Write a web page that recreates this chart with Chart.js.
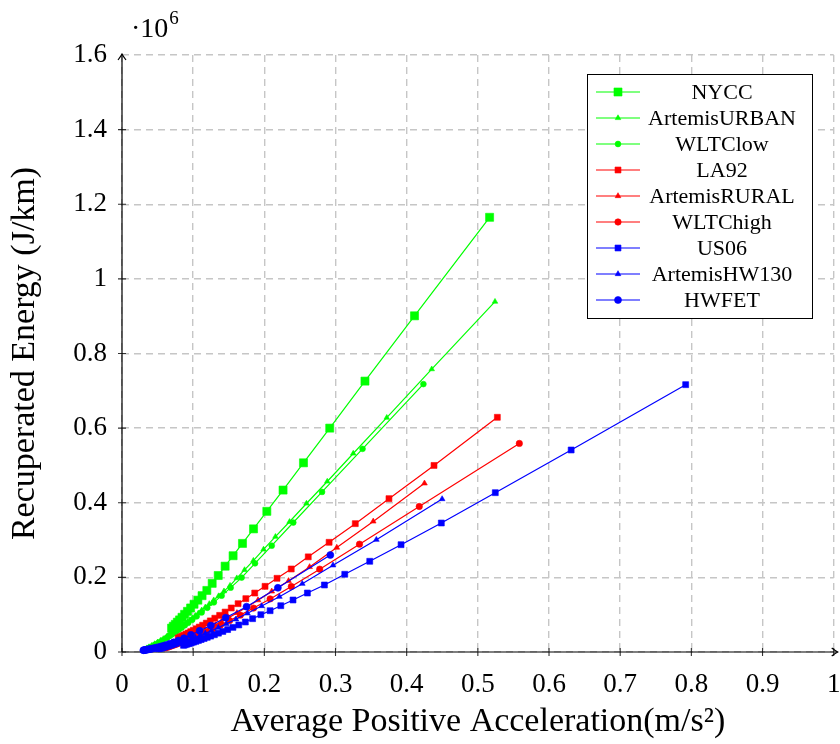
<!DOCTYPE html>
<html><head><meta charset="utf-8">
<script src="https://cdn.jsdelivr.net/npm/chart.js@4.4.0/dist/chart.umd.min.js"></script>
<style>html,body{margin:0;padding:0;background:#fff;}#wrap{width:840px;height:744px;}</style>
</head><body><div id="wrap"><canvas id="c" width="840" height="744"></canvas></div>
<script>
// ---------- DATA (energy values in units of 10^6 J/km) ----------
const seriesNames = ['NYCC','ArtemisURBAN','WLTClow','LA92','ArtemisRURAL','WLTChigh','US06','ArtemisHW130','HWFET'];

const nyccX = [0.5165,0.411,0.3414,0.2919,0.255,0.2263,0.2035,0.1848,0.1693,0.1561,0.1449,0.1352,0.1267,0.1192,0.1125,0.1066,0.1012,0.0964,0.0920,0.0880,0.0843,0.0809,0.0778,0.0749,0.0722,0.0697];
const nyccY = [1.165,0.901,0.726,0.600,0.507,0.434,0.377,0.330,0.291,0.258,0.230,0.205,0.184,0.165,0.151,0.139,0.128,0.118,0.109,0.101,0.093,0.086,0.080,0.074,0.069,0.064];

const artUrbanX = [0.5241,0.4352,0.3720,0.3249,0.2884,0.2592,0.2354,0.2156,0.1989,0.1846,0.1722,0.1613,0.1518,0.1433,0.1357,0.1289,0.1227,0.1171,0.1120,0.1073,0.1030,0.0990,0.0953,0.0919,0.0887,0.0858,0.0830,0.0804,0.0780,0.0757,0.0735,0.0714,0.0695,0.0677,0.0659,0.0643,0.0627,0.058,0.054,0.050,0.046,0.042,0.038,0.035];
const artUrbanY = [0.939,0.758,0.628,0.532,0.457,0.398,0.349,0.309,0.275,0.245,0.220,0.198,0.178,0.163,0.150,0.139,0.129,0.120,0.112,0.104,0.0975,0.0915,0.086,0.081,0.0764,0.0722,0.0682,0.0645,0.0612,0.0581,0.0551,0.0523,0.0498,0.0474,0.0451,0.0431,0.0411,0.0353,0.0306,0.0260,0.0216,0.0174,0.0134,0.0105];

const wltcLowX = [0.4235,0.3380,0.2811,0.2407,0.2104,0.1869,0.1681,0.1527,0.1400,0.1291,0.1199,0.1119,0.1049,0.0987,0.0932,0.0883,0.0838,0.0798,0.0762,0.0729,0.0698,0.0670,0.0644,0.0621,0.057,0.052,0.047,0.043,0.039,0.036];
const wltcLowY = [0.718,0.5445,0.429,0.347,0.285,0.2376,0.1994,0.1725,0.151,0.133,0.1185,0.106,0.0955,0.0863,0.0783,0.0714,0.0651,0.0597,0.0549,0.0506,0.0467,0.0431,0.0399,0.0372,0.0311,0.0254,0.0201,0.0160,0.0122,0.0094];

const la92X = [0.5274,0.4384,0.3751,0.3278,0.2910,0.2617,0.2378,0.2178,0.2010,0.1865,0.1740,0.1631,0.1535,0.1449,0.1372,0.1304,0.1241,0.1185,0.1133,0.1086,0.1042,0.1002,0.0965,0.0930,0.0898,0.0868,0.0840,0.0814,0.0789];
const la92Y = [0.629,0.500,0.411,0.344,0.294,0.255,0.2225,0.1975,0.176,0.158,0.143,0.1295,0.118,0.107,0.0982,0.0905,0.0834,0.0774,0.0718,0.0668,0.0623,0.0582,0.0545,0.0510,0.0479,0.0450,0.0423,0.0399,0.0376];

const artRuralX = [0.4250,0.3530,0.3018,0.2636,0.2340,0.2104,0.1911,0.1750,0.1615,0.1499,0.1398,0.1310,0.1233,0.1164,0.1102,0.1047,0.0997,0.0951,0.0910,0.0872,0.0837,0.0804,0.0774,0.0747,0.0721,0.0697,0.0674,0.0653];
const artRuralY = [0.452,0.350,0.280,0.228,0.1905,0.1625,0.139,0.1198,0.1048,0.0921,0.0815,0.0725,0.0648,0.0581,0.0522,0.0471,0.0426,0.0385,0.0350,0.0318,0.0289,0.0262,0.0238,0.0217,0.0198,0.0180,0.0163,0.0148];

const wltcHighX = [0.5583,0.4177,0.3337,0.2778,0.2379,0.2081,0.1849,0.1663,0.1512,0.1385,0.1279,0.1187,0.1108,0.1038,0.0977,0.0923,0.0874,0.0830,0.0791,0.0755,0.0722,0.0692,0.0664,0.0639,0.0615];
const wltcHighY = [0.559,0.390,0.289,0.222,0.1754,0.1423,0.1177,0.0988,0.0841,0.0721,0.0624,0.0543,0.0476,0.0417,0.0368,0.0326,0.0289,0.0256,0.0228,0.0203,0.0181,0.0161,0.0143,0.0127,0.0112];

const us06X = [0.792,0.6311,0.5245,0.4487,0.3921,0.3481,0.3130,0.2844,0.2605,0.2403,0.2231,0.2081,0.1951,0.1835,0.1733,0.1641,0.1559,0.1484,0.1417,0.1355,0.1298,0.1246,0.1198,0.1154,0.1112,0.1074,0.1038,0.1004,0.0973,0.0943,0.0916,0.0889,0.0865];
const us06Y = [0.7165,0.5414,0.427,0.3457,0.2876,0.2431,0.2083,0.1796,0.1581,0.1394,0.1241,0.1107,0.100,0.0893,0.0804,0.0725,0.0660,0.0601,0.0551,0.0505,0.0463,0.0426,0.0393,0.0362,0.0334,0.0309,0.0285,0.0264,0.0244,0.0226,0.0210,0.0193,0.0179];

const artHw130X = [0.4498,0.3574,0.2965,0.2533,0.2211,0.1962,0.1763,0.1601,0.1466,0.1352,0.1254,0.1170,0.1096,0.1031,0.0973,0.0922,0.0875,0.0833,0.0795,0.0761,0.0729,0.0699,0.0672,0.0647,0.0624,0.0602,0.0582,0.0563,0.0546,0.0529,0.0514];
const artHw130Y = [0.410,0.301,0.2324,0.183,0.1482,0.1233,0.1037,0.0876,0.0753,0.0652,0.0568,0.0498,0.0439,0.0388,0.0344,0.0306,0.0272,0.0243,0.0217,0.0194,0.0173,0.0154,0.0138,0.0123,0.0109,0.0097,0.0086,0.0076,0.0067,0.0058,0.0051];

const hwfetX = [0.2927,0.219,0.175,0.1456,0.1248,0.1091,0.0969,0.0872,0.0793,0.0726,0.067,0.0622,0.0581,0.0544,0.0512,0.0484,0.0458,0.0435,0.0415,0.0396,0.0379,0.0363,0.0348,0.0335,0.0322,0.0311,0.0300];
const hwfetY = [0.260,0.172,0.1215,0.092,0.071,0.057,0.046,0.037,0.031,0.026,0.022,0.019,0.0165,0.0145,0.013,0.0117,0.0105,0.0095,0.0087,0.008,0.0073,0.0067,0.0062,0.0058,0.0054,0.005,0.0047];

const xTickLabels = ['0','0.1','0.2','0.3','0.4','0.5','0.6','0.7','0.8','0.9','1'];
const yTickLabels = ['0','0.2','0.4','0.6','0.8','1','1.2','1.4','1.6'];
const xTitle = 'Average Positive Acceleration(m/s\u00B2)';
const yTitle = 'Recuperated Energy (J/km)';
const yScaleNote = ['\u00B710', '6'];

// ---------- STYLES ----------
const FONT = '"Liberation Serif", "Times New Roman", serif';
const GREEN = '#00ff00', RED = '#ff0000', BLUE = '#0000ff';
const seriesStyles = [
  {color: GREEN, style: 'rect', r: 5.7},
  {color: GREEN, style: 'triangle', r: 3.2},
  {color: GREEN, style: 'circle', r: 2.9},
  {color: RED, style: 'rect', r: 4.2},
  {color: RED, style: 'triangle', r: 3.3},
  {color: RED, style: 'circle', r: 3.2},
  {color: BLUE, style: 'rect', r: 4.2},
  {color: BLUE, style: 'triangle', r: 3.3},
  {color: BLUE, style: 'circle', r: 3.5}
];
const seriesData = [
  [nyccX, nyccY], [artUrbanX, artUrbanY], [wltcLowX, wltcLowY],
  [la92X, la92Y], [artRuralX, artRuralY], [wltcHighX, wltcHighY],
  [us06X, us06Y], [artHw130X, artHw130Y], [hwfetX, hwfetY]
];

function zip(xs, ys) {
  const n = Math.min(xs.length, ys.length), out = [];
  for (let i = 0; i < n; i++) out.push({x: xs[i], y: ys[i]});
  return out;
}

const datasets = seriesNames.map((name, i) => {
  const s = seriesStyles[i];
  return {
    label: name,
    data: zip(seriesData[i][0], seriesData[i][1]),
    showLine: true,
    tension: 0,
    borderColor: s.color,
    backgroundColor: s.color,
    borderWidth: 1.2,
    pointStyle: s.style,
    pointRadius: s.r,
    pointHoverRadius: s.r,
    pointBorderWidth: 0.6,
    pointBackgroundColor: s.color,
    pointBorderColor: s.color,
    order: seriesNames.length - 1 - i,
    clip: false
  };
});

function marker(ctx, style, r, x, y) {
  if (Chart.helpers && Chart.helpers.drawPoint) {
    Chart.helpers.drawPoint(ctx, {pointStyle: style, radius: r, borderWidth: 0.6, rotation: 0}, x, y);
    return;
  }
  ctx.beginPath();
  if (style === 'circle') ctx.arc(x, y, r, 0, Math.PI * 2);
  else if (style === 'rect') { const h = r * Math.SQRT1_2; ctx.rect(x - h, y - h, 2 * h, 2 * h); }
  else { ctx.moveTo(x, y - r); ctx.lineTo(x + r * 0.866, y + r * 0.5); ctx.lineTo(x - r * 0.866, y + r * 0.5); ctx.closePath(); }
  ctx.fill(); ctx.stroke();
}

const decor = {
  id: 'decor',
  beforeDatasetsDraw(chart) {
    const {ctx, chartArea: a, scales: {x, y}} = chart;
    ctx.save();
    ctx.strokeStyle = '#333';
    ctx.lineWidth = 1.1;
    ctx.setLineDash([]);
    ctx.beginPath();
    x.ticks.forEach(t => { const px = x.getPixelForValue(t.value); ctx.moveTo(px, a.bottom - 4); ctx.lineTo(px, a.bottom + 4); });
    y.ticks.forEach(t => { if (t.value >= y.max - 1e-9) return; const py = y.getPixelForValue(t.value); ctx.moveTo(a.left - 4, py); ctx.lineTo(a.left + 4, py); });
    ctx.stroke();
    ctx.strokeStyle = '#000';
    ctx.lineWidth = 1.2;
    ctx.beginPath();
    ctx.moveTo(a.left, a.bottom); ctx.lineTo(a.right + 4, a.bottom);
    ctx.moveTo(a.left, a.bottom); ctx.lineTo(a.left, a.top - 1);
    ctx.stroke();
    const tx = a.right + 4, ty = a.bottom;
    ctx.beginPath();
    ctx.moveTo(tx - 6, ty - 4); ctx.quadraticCurveTo(tx - 2, ty - 1, tx, ty);
    ctx.quadraticCurveTo(tx - 2, ty + 1, tx - 6, ty + 4);
    const ux = a.left, uy = a.top - 1;
    ctx.moveTo(ux - 4, uy + 6); ctx.quadraticCurveTo(ux - 1, uy + 2, ux, uy);
    ctx.quadraticCurveTo(ux + 1, uy + 2, ux + 4, uy + 6);
    ctx.stroke();
    ctx.restore();
  },
  afterDraw(chart) {
    const {ctx, chartArea: a} = chart;
    ctx.save();
    ctx.fillStyle = '#000';
    ctx.textAlign = 'left';
    ctx.textBaseline = 'alphabetic';
    ctx.font = '28px ' + FONT;
    ctx.fillText(yScaleNote[0], a.left + 9, 37);
    const w = ctx.measureText(yScaleNote[0]).width;
    ctx.font = '19px ' + FONT;
    ctx.fillText(yScaleNote[1], a.left + 9 + w + 1, 24);
    const L = {x: 587, y: 74, w: 225, h: 244, row0: 92, dy: 26, l0: 596, l1: 640, tx: 722};
    ctx.fillStyle = '#fff';
    ctx.fillRect(L.x, L.y, L.w, L.h);
    ctx.strokeStyle = '#000';
    ctx.lineWidth = 1;
    ctx.strokeRect(L.x + 0.5, L.y + 0.5, L.w, L.h);
    chart.data.datasets.forEach((ds, i) => {
      const yy = L.row0 + i * L.dy;
      ctx.strokeStyle = ds.borderColor;
      ctx.lineWidth = 1.2;
      ctx.beginPath(); ctx.moveTo(L.l0, yy); ctx.lineTo(L.l1, yy); ctx.stroke();
      ctx.fillStyle = ds.borderColor;
      ctx.lineWidth = 0.6;
      marker(ctx, ds.pointStyle, ds.pointRadius, (L.l0 + L.l1) / 2, yy);
      ctx.fillStyle = '#000';
      ctx.font = '22px ' + FONT;
      ctx.textAlign = 'center';
      ctx.textBaseline = 'middle';
      ctx.fillText(ds.label, L.tx, yy + 1);
    });
    ctx.restore();
  }
};

new Chart(document.getElementById('c'), {
  type: 'scatter',
  data: {datasets},
  options: {
    responsive: false,
    animation: false,
    devicePixelRatio: 1,
    layout: {padding: {top: 55, right: 5, left: 0, bottom: 0}},
    plugins: {legend: {display: false}, tooltip: {enabled: false}},
    scales: {
      x: {
        type: 'linear', min: 0, max: 1,
        ticks: {stepSize: 0.1, autoSkip: false, maxRotation: 0, padding: 17, color: '#000',
          font: {family: FONT, size: 27},
          callback: v => { const k = Math.round(v * 10); return Math.abs(v * 10 - k) < 1e-6 ? (xTickLabels[k] ?? '') : ''; }},
        grid: {color: '#c6c6c6', lineWidth: 1.4, drawTicks: false},
        border: {display: false, dash: [7, 5]},
        title: {display: true, text: xTitle, color: '#000', font: {family: FONT, size: 34, lineHeight: 1.2}, padding: {top: 0, bottom: 2}},
        afterFit: s => { s.height = 92; s.paddingLeft = 0; s.paddingRight = 0; }
      },
      y: {
        type: 'linear', min: 0, max: 1.6,
        ticks: {stepSize: 0.2, autoSkip: false, padding: 15, color: '#000',
          font: {family: FONT, size: 27},
          callback: v => { const k = Math.round(v * 5); return Math.abs(v * 5 - k) < 1e-6 ? (yTickLabels[k] ?? '') : ''; }},
        grid: {color: '#c6c6c6', lineWidth: 1.4, drawTicks: false},
        border: {display: false, dash: [7, 5]},
        title: {display: true, text: yTitle, color: '#000', font: {family: FONT, size: 34, lineHeight: 1.2}, padding: {top: 5, bottom: 0}},
        afterFit: s => { s.width = 122; s.paddingTop = 0; s.paddingBottom = 0; }
      }
    }
  },
  plugins: [decor]
});
</script></body></html>
